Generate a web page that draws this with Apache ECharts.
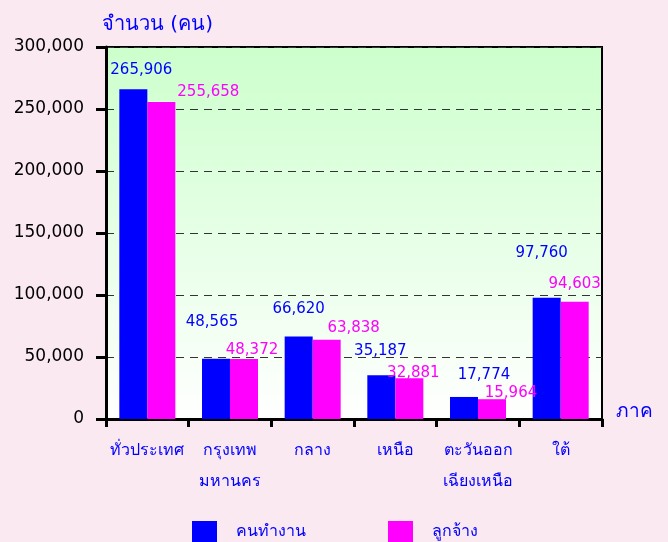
<!DOCTYPE html>
<html>
<head>
<meta charset="utf-8">
<script src="https://cdn.jsdelivr.net/npm/echarts@6/dist/echarts.min.js"></script>
<style>
html, body { margin: 0; padding: 0; background: #fbe9f2; }
#chart { width: 668px; height: 542px; }
</style>
</head>
<body>
<div id="chart"></div>
<script>
// ข้อมูล
var regions = ['ทั่วประเทศ', 'กรุงเทพ\nมหานคร', 'กลาง', 'เหนือ', 'ตะวันออก\nเฉียงเหนือ', 'ใต้'];
var workers = [265906, 48565, 66620, 35187, 17774, 97760];     // คนทำงาน
var employees = [255658, 48372, 63838, 32881, 15964, 94603];   // ลูกจ้าง
var yTicks = [0, 50000, 100000, 150000, 200000, 250000, 300000];

// label nudges (layout only)
var workerShift = [[8, -7], [-4, -24], [0, -15], [-1, -12], [20, -9], [-5, -32]];
var employeeShift = [[47, 3], [8, 4], [27, 1], [4, 7], [19, 6], [0, -5]];

var font = '"DejaVu Sans", "Noto Sans", sans-serif';
var blue = '#0000ff', pink = '#ff00ff';

function fmt(v) { return v.toLocaleString('en-US'); }

function withLabels(values, shift) {
    return values.map(function (v, i) {
        return { value: v, label: { offset: shift[i] } };
    });
}

var myChart = echarts.init(document.getElementById('chart'));

var option = {
    backgroundColor: '#fbe9f2',
    textStyle: { fontFamily: font },
    grid: {
        left: 106, right: 66, top: 47, bottom: 123,
        show: true,
        borderColor: '#000',
        borderWidth: 2,
        backgroundColor: {
            type: 'linear', x: 0, y: 0, x2: 0, y2: 1,
            colorStops: [
                { offset: 0, color: '#ccffcc' },
                { offset: 1, color: '#ffffff' }
            ]
        }
    },
    legend: {
        bottom: -6,
        left: 187,
        icon: 'rect',
        itemWidth: 25,
        itemHeight: 22,
        itemGap: 82,
        textStyle: { color: blue, fontSize: 16, padding: [0, 0, 0, 14] },
        data: ['คนทำงาน', 'ลูกจ้าง']
    },
    xAxis: {
        type: 'category',
        data: regions,
        name: 'ภาค',
        nameLocation: 'end',
        nameGap: 14,
        nameTextStyle: { color: blue, fontSize: 19, verticalAlign: 'bottom', lineHeight: 14 },
        axisLine: { lineStyle: { color: '#000', width: 3 } },
        axisTick: { show: true, interval: 0, length: 8, lineStyle: { color: '#000', width: 3 } },
        axisLabel: { color: blue, fontSize: 16, margin: 16, lineHeight: 31, interval: 0 },
        splitLine: { show: false }
    },
    yAxis: {
        type: 'value',
        min: 0,
        max: 300000,
        interval: 50000,
        name: 'จำนวน (คน)',
        nameLocation: 'end',
        nameGap: 12,
        nameTextStyle: { color: blue, fontSize: 20, align: 'left', padding: [0, 0, 0, -4] },
        axisLine: { show: true, lineStyle: { color: '#000', width: 3 } },
        axisTick: { show: true, length: 10, lineStyle: { color: '#000', width: 3 } },
        axisLabel: {
            color: '#000', fontSize: 17, margin: 22,
            formatter: function (v) { return yTicks.indexOf(v) >= 0 ? fmt(v) : ''; }
        },
        splitLine: { show: true, lineStyle: { color: '#333', type: [8, 6], width: 1 } }
    },
    series: [
        {
            name: 'คนทำงาน',
            type: 'bar',
            barWidth: 28,
            barGap: '0%',
            itemStyle: { color: blue },
            label: {
                show: true, position: 'top', color: blue, fontSize: 15,
                formatter: function (p) { return fmt(p.value); }
            },
            data: withLabels(workers, workerShift)
        },
        {
            name: 'ลูกจ้าง',
            type: 'bar',
            barWidth: 28,
            barGap: '0%',
            itemStyle: { color: pink },
            label: {
                show: true, position: 'top', color: pink, fontSize: 15,
                formatter: function (p) { return fmt(p.value); }
            },
            data: withLabels(employees, employeeShift)
        }
    ]
};

myChart.setOption(option);

window.addEventListener('resize', function () {
    myChart.resize();
});
</script>
</body>
</html>
